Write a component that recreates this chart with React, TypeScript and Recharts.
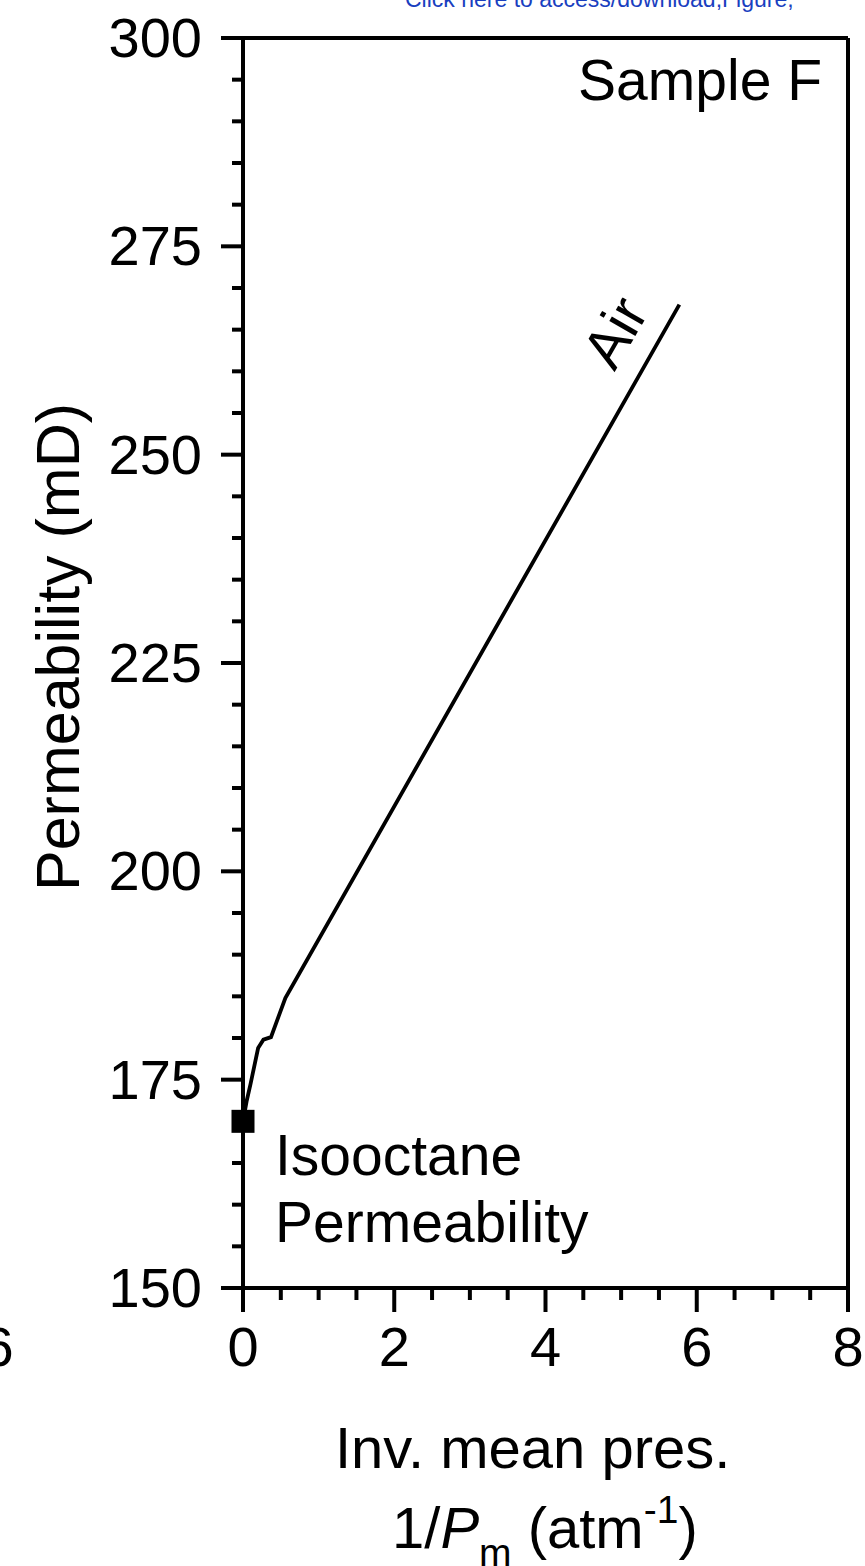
import React from "react";
import { ComposedChart, Line, Scatter, XAxis, YAxis, ReferenceLine } from "recharts";

// air permeability vs inverse mean pressure (Klinkenberg plot), sample F
const airInvP = [0, 0.05, 0.1, 0.2, 0.27, 0.37, 0.56, 5.77];
const airPerm = [170, 172.5, 174.5, 178.8, 179.8, 180.1, 184.8, 268];

// isooctane (liquid) permeability
const isoInvP = [0];
const isoPerm = [170];

const xTicks = [0, 0.5, 1, 1.5, 2, 2.5, 3, 3.5, 4, 4.5, 5, 5.5, 6, 6.5, 7, 7.5, 8];
const xMajor = [0, 2, 4, 6, 8];
const yTicks = [
  150, 155, 160, 165, 170, 175, 180, 185, 190, 195, 200, 205, 210, 215, 220, 225,
  230, 235, 240, 245, 250, 255, 260, 265, 270, 275, 280, 285, 290, 295, 300,
];
const yMajor = [150, 175, 200, 225, 250, 275, 300];

const airData = airInvP.map((x, i) => ({ x, y: airPerm[i] }));
const isoData = isoInvP.map((x, i) => ({ x, y: isoPerm[i] }));

const FONT = "'Liberation Sans', Arial, sans-serif";
const AXIS_W = 4;

const XTick = (props: any) => {
  const { x, y, payload } = props;
  const major = xMajor.includes(payload.value);
  return (
    <g>
      <line x1={x} x2={x} y1={y} y2={y + (major ? 24 : 12)} stroke="#000" strokeWidth={AXIS_W} />
      {major && (
        <text x={x} y={y + 78} textAnchor="middle" fontSize={56} fontFamily={FONT} fill="#000">
          {payload.value}
        </text>
      )}
    </g>
  );
};

const YTick = (props: any) => {
  const { x, y, payload } = props;
  const major = yMajor.includes(payload.value);
  return (
    <g>
      <line x1={x} x2={x - (major ? 22 : 11)} y1={y} y2={y} stroke="#000" strokeWidth={AXIS_W} />
      {major && (
        <text x={x - 41} y={y + 19} textAnchor="end" fontSize={56} fontFamily={FONT} fill="#000">
          {payload.value}
        </text>
      )}
    </g>
  );
};

const Square = (props: any) => {
  const { cx, cy } = props;
  return <rect x={cx - 11.5} y={cy - 11.5} width={23} height={23} fill="#000" />;
};

export default function App() {
  return (
    <div style={{ position: "absolute", left: 0, top: 0, width: 865, height: 1566, background: "#fff" }}>
      <ComposedChart
        width={865}
        height={1566}
        margin={{ top: 38, right: 17, bottom: 178, left: 0 }}
      >
        <XAxis
          type="number"
          dataKey="x"
          domain={[0, 8]}
          ticks={xTicks}
          interval={0}
          height={100}
          tickSize={0}
          tickMargin={0}
          tickLine={false}
          axisLine={{ stroke: "#000", strokeWidth: AXIS_W }}
          tick={<XTick />}
        />
        <YAxis
          type="number"
          dataKey="y"
          domain={[150, 300]}
          ticks={yTicks}
          interval={0}
          width={243}
          tickSize={0}
          tickMargin={0}
          tickLine={false}
          axisLine={{ stroke: "#000", strokeWidth: AXIS_W }}
          tick={<YTick />}
        />
        <ReferenceLine y={300} stroke="#000" strokeWidth={AXIS_W} />
        <ReferenceLine x={8} stroke="#000" strokeWidth={AXIS_W} />
        <Line
          data={airData}
          dataKey="y"
          type="linear"
          stroke="#000"
          strokeWidth={3.8}
          dot={false}
          isAnimationActive={false}
        />
        <Scatter data={isoData} dataKey="y" fill="#000" shape={<Square />} isAnimationActive={false} />
      </ComposedChart>

      <svg
        width={865}
        height={1566}
        style={{ position: "absolute", left: 0, top: 0, pointerEvents: "none" }}
        fontFamily={FONT}
      >
        <text x={405} y={7} fontSize={23} fill="#1a3fbf">
          Click here to access/download;Figure;
        </text>
        <text x={-2} y={1366} fontSize={56} textAnchor="middle" fill="#000">
          6
        </text>
        <text x={822} y={100} fontSize={57} textAnchor="end" fill="#000">
          Sample F
        </text>
        <text x={275} y={1175} fontSize={57} fill="#000">
          Isooctane
        </text>
        <text x={275} y={1242} fontSize={57} fill="#000">
          Permeability
        </text>
        <text x={632} y={342} fontSize={57} textAnchor="middle" fill="#000" transform="rotate(-60 632 342)">
          Air
        </text>
        <text x={79} y={647} fontSize={61} textAnchor="middle" fill="#000" transform="rotate(-90 79 647)">
          Permeability (mD)
        </text>
        <text x={335} y={1468} fontSize={58} fill="#000">
          Inv. mean pres.
        </text>
        <text x={392} y={1548} fontSize={58} fill="#000">
          1/<tspan fontStyle="italic">P</tspan>
          <tspan fontSize={39} dy={18}>m</tspan>
          <tspan dy={-18}> (atm</tspan>
          <tspan fontSize={39} dy={-25}>-1</tspan>
          <tspan dy={25}>)</tspan>
        </text>
      </svg>
    </div>
  );
}
